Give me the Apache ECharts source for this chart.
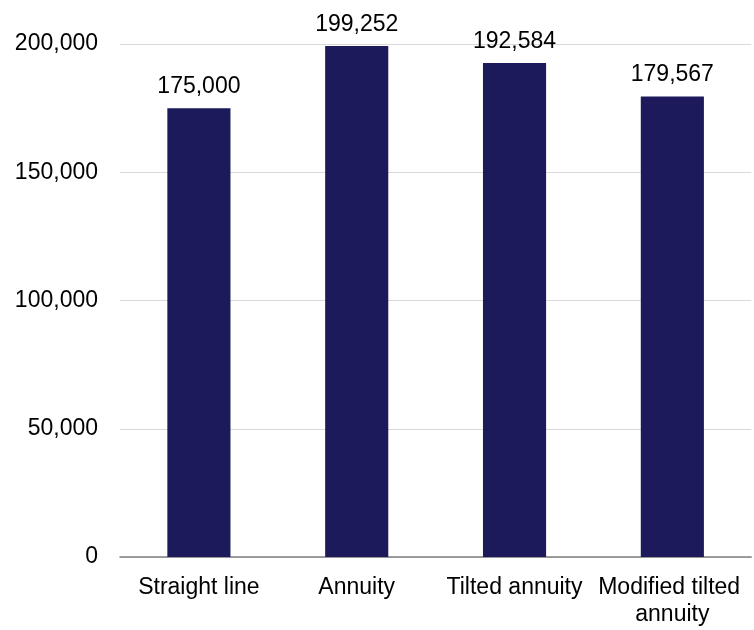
<!DOCTYPE html>
<html>
<head>
<meta charset="utf-8">
<script src="https://cdn.jsdelivr.net/npm/echarts@6/dist/echarts.min.js"></script>
<style>
  html, body { margin: 0; padding: 0; background: #fff; }
  #chart { width: 754px; height: 630px; }
</style>
</head>
<body>
<div id="chart"></div>
<script>
// Depreciation method totals
const categories = ['Straight line', 'Annuity', 'Tilted annuity', 'Modified tilted annuity'];
const totals = [175000, 199252, 192584, 179567];

const font = '"Liberation Sans", Arial, sans-serif';
const fmt = v => Number(v).toLocaleString('en-US');

const chart = echarts.init(document.getElementById('chart'));
chart.setOption({
  animation: false,
  grid: { left: 120, right: 0, top: 44, bottom: 73 },
  xAxis: {
    type: 'category',
    data: categories,
    axisLine: { lineStyle: { color: '#808080', width: 1.5 } },
    axisTick: { show: false },
    axisLabel: {
      color: '#000',
      fontFamily: font,
      fontSize: 23,
      margin: 17,
      lineHeight: 27,
      width: 158,
      overflow: 'break',
      interval: 0
    }
  },
  yAxis: {
    type: 'value',
    min: 0,
    max: 200000,
    interval: 50000,
    axisLine: { show: false },
    axisTick: { show: false },
    splitLine: { lineStyle: { color: '#d9d9d9', width: 1.2 } },
    axisLabel: {
      color: '#000',
      fontFamily: font,
      fontSize: 23,
      margin: 22,
      padding: [4, 0, 0, 0],
      formatter: fmt
    }
  },
  series: [{
    type: 'bar',
    data: totals,
    barWidth: '40%',
    itemStyle: { color: '#1c1a5a' },
    label: {
      show: true,
      position: 'top',
      distance: 10,
      color: '#000',
      fontFamily: font,
      fontSize: 23,
      formatter: p => fmt(p.value)
    }
  }]
});
</script>
</body>
</html>
